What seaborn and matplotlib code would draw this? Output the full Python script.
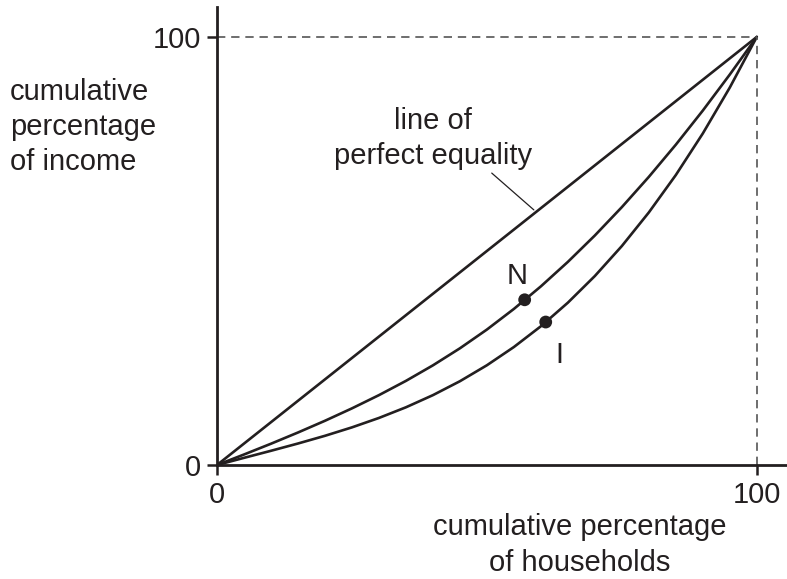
import pandas as pd
import matplotlib
matplotlib.use("Agg")
import matplotlib.pyplot as plt
import seaborn as sns

# values (percent of households, percent of income)
equality_x = [0, 100]
equality_y = [0, 100]

n_x = [0, 5, 10, 15, 20, 25, 30, 35, 40, 45, 50, 55, 60, 65, 70, 75, 80, 85, 90, 95, 100]
n_y = [0, 2.45, 4.97, 7.59, 10.33, 13.23, 16.32, 19.65, 23.28, 27.26, 31.64,
       36.46, 41.73, 47.45, 53.62, 60.24, 67.31, 74.83, 82.80, 91.22, 100]

i_x = [0, 5, 10, 15, 20, 25, 30, 35, 40, 45, 50, 55, 60, 65, 70, 75, 80, 85, 90, 95, 100]
i_y = [0, 1.67, 3.32, 5.02, 6.82, 8.79, 10.99, 13.48, 16.32, 19.57, 23.30,
       27.56, 32.41, 37.92, 44.15, 51.15, 59.00, 67.74, 77.45, 88.18, 100]

point_names = ["N", "I"]
point_x = [57, 60.9]
point_y = [38.6, 33.4]

tick_vals = [0, 100]
tick_text = ["0", "100"]

ink = "#231f20"

sns.set_style("ticks")
plt.rcParams["font.family"] = ["Liberation Sans", "DejaVu Sans"]

fig = plt.figure(figsize=(7.87, 5.79), dpi=100)
ax = fig.add_axes([217 / 787, 114 / 579, 570 / 787, 458 / 579])

curves = pd.concat([
    pd.DataFrame({"x": equality_x, "y": equality_y, "curve": "equality"}),
    pd.DataFrame({"x": n_x, "y": n_y, "curve": "N"}),
    pd.DataFrame({"x": i_x, "y": i_y, "curve": "I"}),
])
sns.lineplot(data=curves, x="x", y="y", units="curve", estimator=None, sort=False,
             color=ink, linewidth=1.9, ax=ax)

pts = pd.DataFrame({"x": point_x, "y": point_y, "name": point_names})
sns.scatterplot(data=pts, x="x", y="y", color=ink, s=85, edgecolor="none", ax=ax, zorder=5)

# dashed guides to the (100, 100) corner
ax.plot([0, 100], [100, 100], color="#555555", lw=1.2, ls=(0, (5, 3.5)))
ax.plot([100, 100], [0, 100], color="#555555", lw=1.2, ls=(0, (5, 3.5)))

ax.set_xlim(0, 105.6)
ax.set_ylim(0, 107)
ax.set_xticks(tick_vals, tick_text)
ax.set_yticks(tick_vals, tick_text)
ax.tick_params(length=7.5, width=1.8, color=ink, labelsize=21, labelcolor=ink, pad=4)
sns.despine(ax=ax)
for side in ["left", "bottom"]:
    ax.spines[side].set_linewidth(2.0)
    ax.spines[side].set_color(ink)
ax.set_xlabel("")
ax.set_ylabel("")

fs = 21
fig.text(10 / 787, 1 - 127 / 579, "cumulative\npercentage\nof income", fontsize=fs,
         color=ink, ha="left", va="center", linespacing=1.32)
fig.text(580 / 787, 1 - 545 / 579, "cumulative percentage\nof households", fontsize=fs,
         color=ink, ha="center", va="center", linespacing=1.32)
ax.text(40.0, 76.2, "line of\nperfect equality", fontsize=fs, color=ink,
        ha="center", va="center", linespacing=1.32)
ax.plot([50.9, 58.7], [68.2, 59.6], color=ink, lw=0.9)

ax.text(55.6, 44.2, "N", fontsize=fs, color=ink, ha="center", va="center")
ax.text(63.5, 25.7, "I", fontsize=fs, color=ink, ha="center", va="center")

fig.savefig("out.png", dpi=100)
